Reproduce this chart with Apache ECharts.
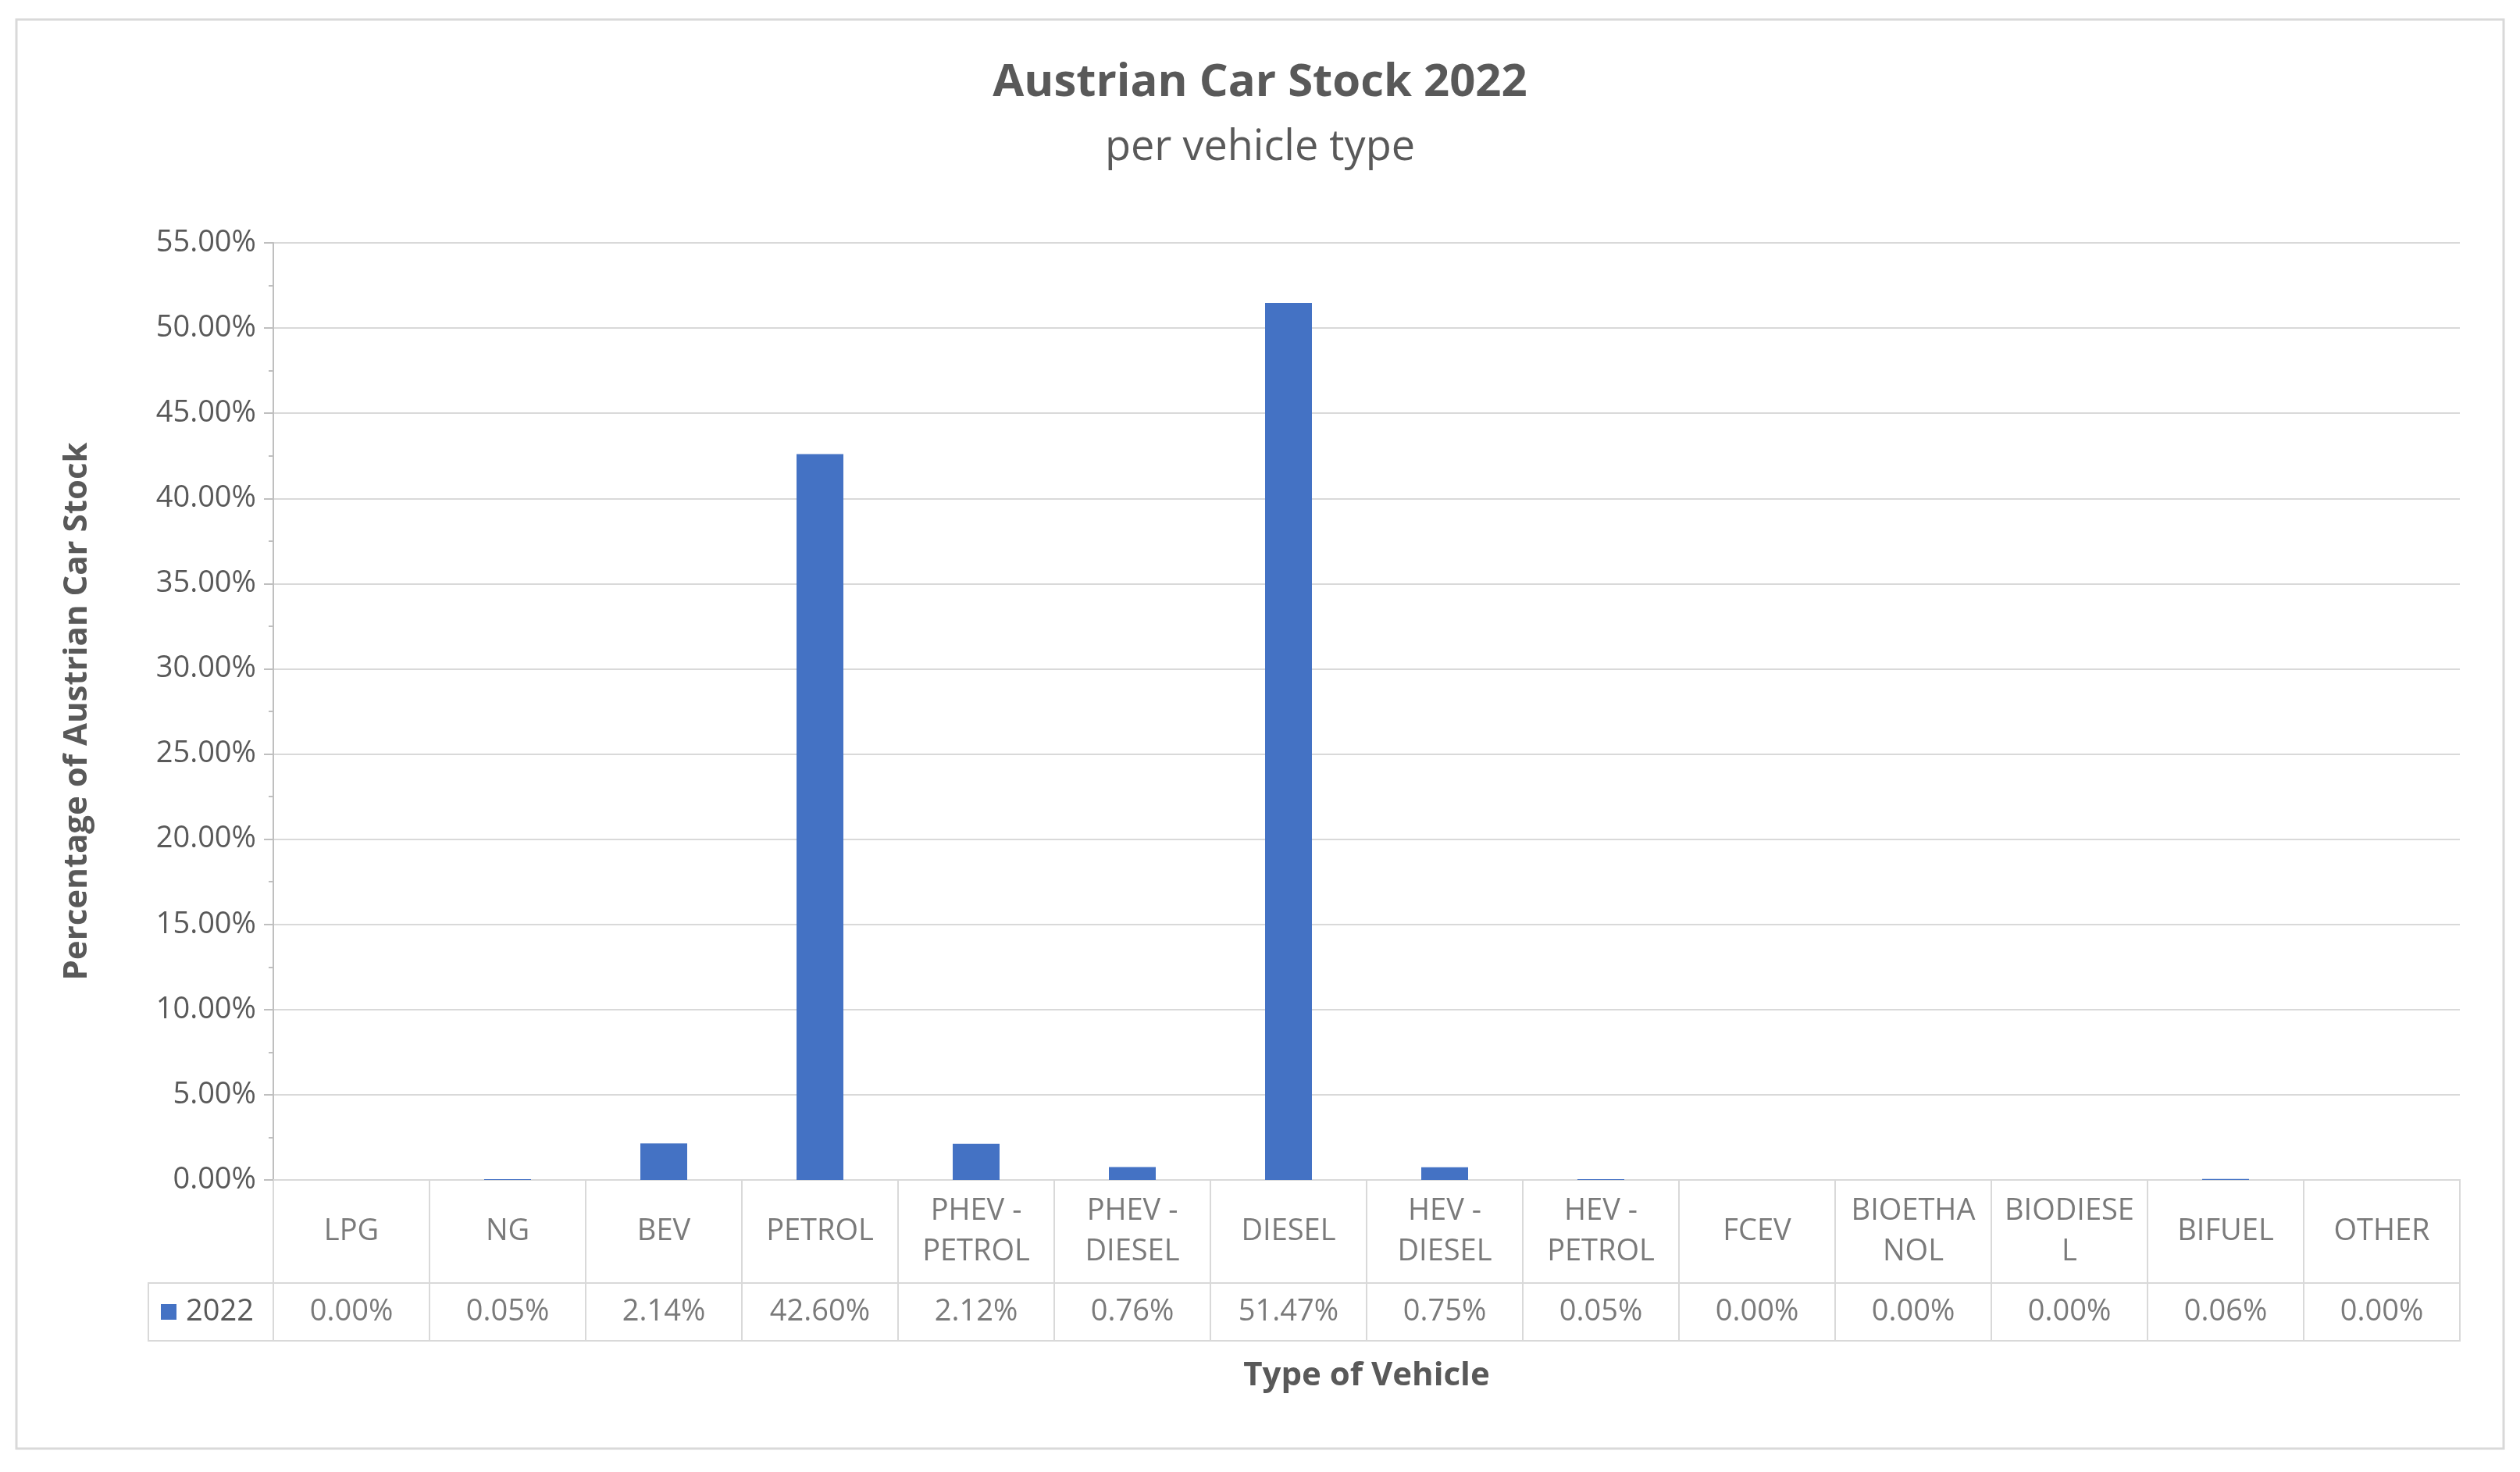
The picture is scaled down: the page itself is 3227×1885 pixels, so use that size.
<!DOCTYPE html>
<html>
<head>
<meta charset="utf-8">
<script src="https://cdn.jsdelivr.net/npm/echarts@6/dist/echarts.min.js"></script>
<style>
  html, body { margin: 0; padding: 0; background: #fff; }
  #chart { width: 3227px; height: 1885px; }
</style>
</head>
<body>
<div id="chart"></div>
<script>
// 车辆类型及占比
const categories = ['LPG', 'NG', 'BEV', 'PETROL', 'PHEV -\nPETROL', 'PHEV -\nDIESEL', 'DIESEL',
  'HEV -\nDIESEL', 'HEV -\nPETROL', 'FCEV', 'BIOETHA\nNOL', 'BIODIESE\nL', 'BIFUEL', 'OTHER']
const values2022 = [0.00, 0.05, 2.14, 42.60, 2.12, 0.76, 51.47, 0.75, 0.05, 0.00, 0.00, 0.00, 0.06, 0.00]
const yTicks = { min: 0, max: 55, interval: 5 }
const seriesName = '2022'

const font = 'Open Sans'
const grey = '#595959'
const lineGrey = '#d9d9d9'
const barColor = '#4472c4'

const L = 350, R = 3227 - 3150
const tableGrid = (top, height) => ({ left: L, right: R, top, height, show: true, borderColor: lineGrey, borderWidth: 2 })
const tableX = (gridIndex) => ({
  type: 'category', gridIndex, data: categories,
  axisLine: { show: false }, axisTick: { show: false }, axisLabel: { show: false },
  splitLine: { show: true, lineStyle: { color: lineGrey, width: 2 } }
})
const tableY = (gridIndex) => ({ type: 'value', gridIndex, min: 0, max: 1, show: false })
const textSeries = (idx, texts) => ({
  type: 'scatter', xAxisIndex: idx, yAxisIndex: idx, symbolSize: 0, silent: true,
  data: texts.map((t, i) => ({ value: [i, 0.5], name: t })),
  label: { show: true, position: 'inside', formatter: p => p.name, color: grey,
    fontFamily: font, fontSize: 38, lineHeight: 52 }
})

const chart = echarts.init(document.getElementById('chart'))
chart.setOption({
  animation: false,
  title: {
    text: 'Austrian Car Stock 2022', subtext: 'per vehicle type', left: 'center', top: 72,
    textStyle: { fontFamily: font, fontSize: 58, fontWeight: 'bold', color: grey },
    subtextStyle: { fontFamily: font, fontSize: 54, color: grey }, itemGap: 28
  },
  graphic: [
    { type: 'rect', shape: { x: 21, y: 25, width: 3185, height: 1830 }, style: { fill: 'none', stroke: lineGrey, lineWidth: 3 } },
    { type: 'rect', shape: { x: 190, y: 1643, width: 160, height: 74 }, style: { fill: 'none', stroke: lineGrey, lineWidth: 2 } },
    { type: 'rect', shape: { x: 206, y: 1670, width: 20, height: 20 }, style: { fill: barColor } },
    { type: 'text', x: 238, y: 1680, style: { text: seriesName, fontFamily: font, fontSize: 38, fill: grey, verticalAlign: 'middle' } },
    { type: 'text', x: 1750, y: 1762, style: { text: 'Type of Vehicle', fontFamily: font, fontSize: 42, fontWeight: 'bold', fill: grey, align: 'center', verticalAlign: 'middle' } }
  ],
  grid: [
    { left: L, right: R, top: 311, height: 1200 },
    tableGrid(1511, 132),
    tableGrid(1643, 74)
  ],
  xAxis: [
    { type: 'category', gridIndex: 0, data: categories,
      axisLine: { lineStyle: { color: lineGrey, width: 2 } }, axisTick: { show: false }, axisLabel: { show: false } },
    tableX(1), tableX(2)
  ],
  yAxis: [
    { type: 'value', gridIndex: 0, min: yTicks.min, max: yTicks.max, interval: yTicks.interval,
      name: 'Percentage of Austrian Car Stock', nameLocation: 'middle', nameGap: 230,
      nameTextStyle: { fontFamily: font, fontSize: 42, fontWeight: 'bold', color: grey },
      axisLine: { show: true, lineStyle: { color: '#bfbfbf', width: 2 } },
      axisTick: { show: true, length: 12, lineStyle: { color: '#bfbfbf', width: 2 } },
      minorTick: { show: true, splitNumber: 2, length: 6, lineStyle: { color: '#bfbfbf', width: 2 } },
      axisLabel: { formatter: v => v.toFixed(2) + '%', fontFamily: font, fontSize: 38, color: grey, margin: 22 },
      splitLine: { lineStyle: { color: lineGrey, width: 2 } } },
    tableY(1), tableY(2)
  ],
  series: [
    { name: seriesName, type: 'bar', xAxisIndex: 0, yAxisIndex: 0, data: values2022,
      barWidth: '30%', itemStyle: { color: barColor } },
    textSeries(1, categories),
    textSeries(2, values2022.map(v => v.toFixed(2) + '%'))
  ]
})
</script>
</body>
</html>
